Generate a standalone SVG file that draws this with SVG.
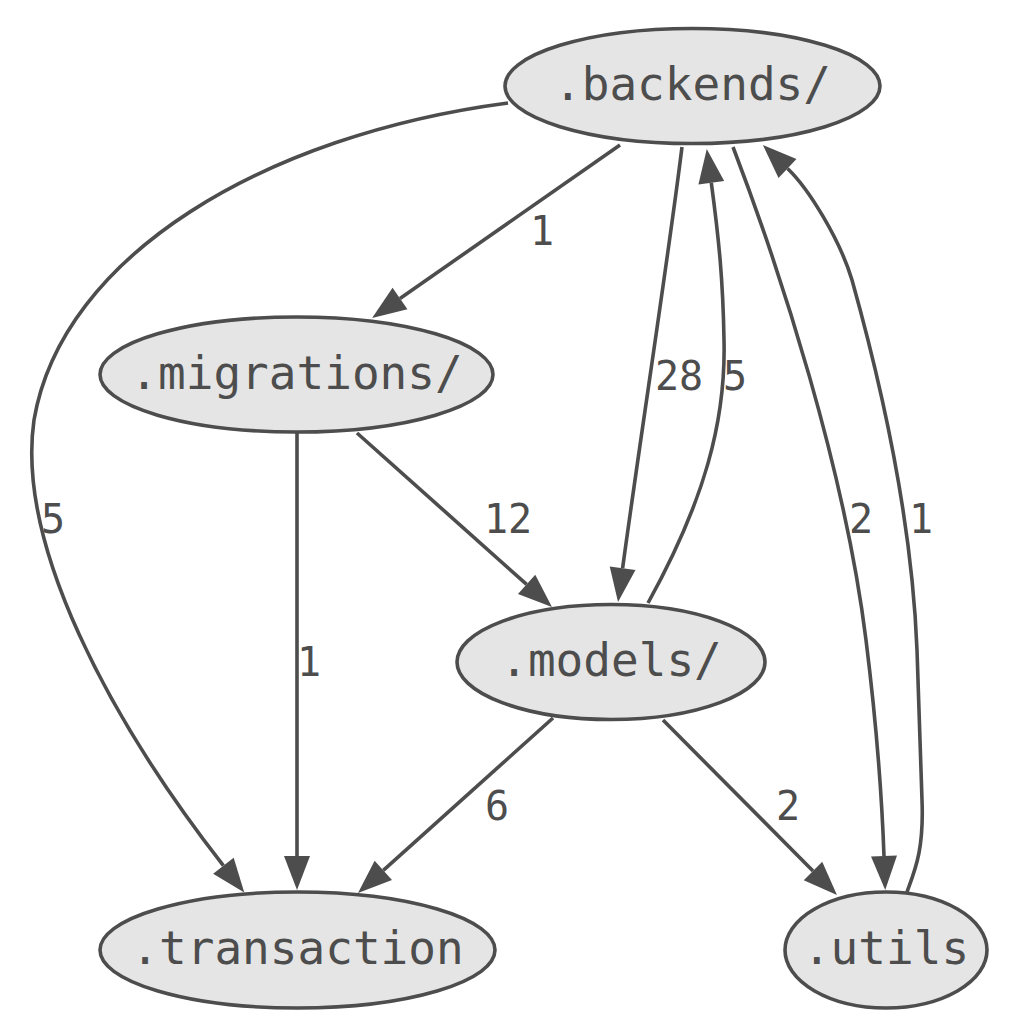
<svg xmlns="http://www.w3.org/2000/svg" width="1031" height="1033" viewBox="0 0 1031 1033">
<defs>
<style>
.node ellipse{fill:#e5e5e5;stroke:#4d4d4d;stroke-width:3.6}
.node text{font-family:"DejaVu Sans Mono","Liberation Mono",monospace;font-size:46px;fill:#4d4d4d;text-anchor:middle}
.edge path{fill:none;stroke:#4d4d4d;stroke-width:3.6;marker-end:url(#arr)}
.elabel{font-family:"DejaVu Sans Mono","Liberation Mono",monospace;font-size:40px;fill:#4d4d4d;text-anchor:middle}
</style>
<marker id="arr" markerUnits="userSpaceOnUse" markerWidth="36" markerHeight="28" viewBox="0 -1 36 28" refX="0" refY="13" orient="auto" overflow="visible">
<path d="M0,0 L34,13 L0,26 Z" fill="#4d4d4d"/>
</marker>
</defs>
<rect width="1031" height="1033" fill="#ffffff"/>
<g id="connectors">
<g class="edge" id="e-backends-transaction"><path d="M508,103 C 265,135 62,255 34,420 C 16,545 110,720 223.4,865.7"/></g>
<g class="edge" id="e-backends-migrations"><path d="M620,145 L400,298.5"/></g>
<g class="edge" id="e-backends-models"><path d="M682,147 C 668,260 640,440 622.6,568.3"/></g>
<g class="edge" id="e-models-backends"><path d="M648,603 C 705,500 726,420 724,340 C 723,280 719,240 711.3,182.7"/></g>
<g class="edge" id="e-backends-utils"><path d="M733,147 C 780,270 845,470 866,640 C 876,720 882,800 884,856"/></g>
<g class="edge" id="e-utils-backends"><path d="M907,892 C 915,870 924,850 922,800 L 917,650 C 912,520 880,380 852,280 C 840,240 809,189 787.5,168.5"/></g>
<g class="edge" id="e-migrations-transaction"><path d="M297,433 L297,856"/></g>
<g class="edge" id="e-migrations-models"><path d="M357,433 L526.6,584.4"/></g>
<g class="edge" id="e-models-transaction"><path d="M553,718 L383.3,870.3"/></g>
<g class="edge" id="e-models-utils"><path d="M663,720 L813,871"/></g>
<text class="elabel" x="53" y="533">5</text>
<text class="elabel" x="542" y="245">1</text>
<text class="elabel" x="679" y="390">28</text>
<text class="elabel" x="735" y="390">5</text>
<text class="elabel" x="861" y="533">2</text>
<text class="elabel" x="921" y="533">1</text>
<text class="elabel" x="309" y="676">1</text>
<text class="elabel" x="508" y="533">12</text>
<text class="elabel" x="497" y="820">6</text>
<text class="elabel" x="788" y="820">2</text>
</g>
<g class="node" id="n-backends"><ellipse cx="692.5" cy="86" rx="187.5" ry="57.5"/><text x="692.5" y="100">.backends/</text></g>
<g class="node" id="n-migrations"><ellipse cx="296.5" cy="374.5" rx="196.5" ry="57.5"/><text x="296.5" y="388.5">.migrations/</text></g>
<g class="node" id="n-models"><ellipse cx="611" cy="662" rx="154" ry="57.5"/><text x="611" y="676">.models/</text></g>
<g class="node" id="n-transaction"><ellipse cx="297.5" cy="950" rx="197.5" ry="58"/><text x="297.5" y="964">.transaction</text></g>
<g class="node" id="n-utils"><ellipse cx="886" cy="950" rx="101" ry="58"/><text x="886" y="964">.utils</text></g>
</svg>
